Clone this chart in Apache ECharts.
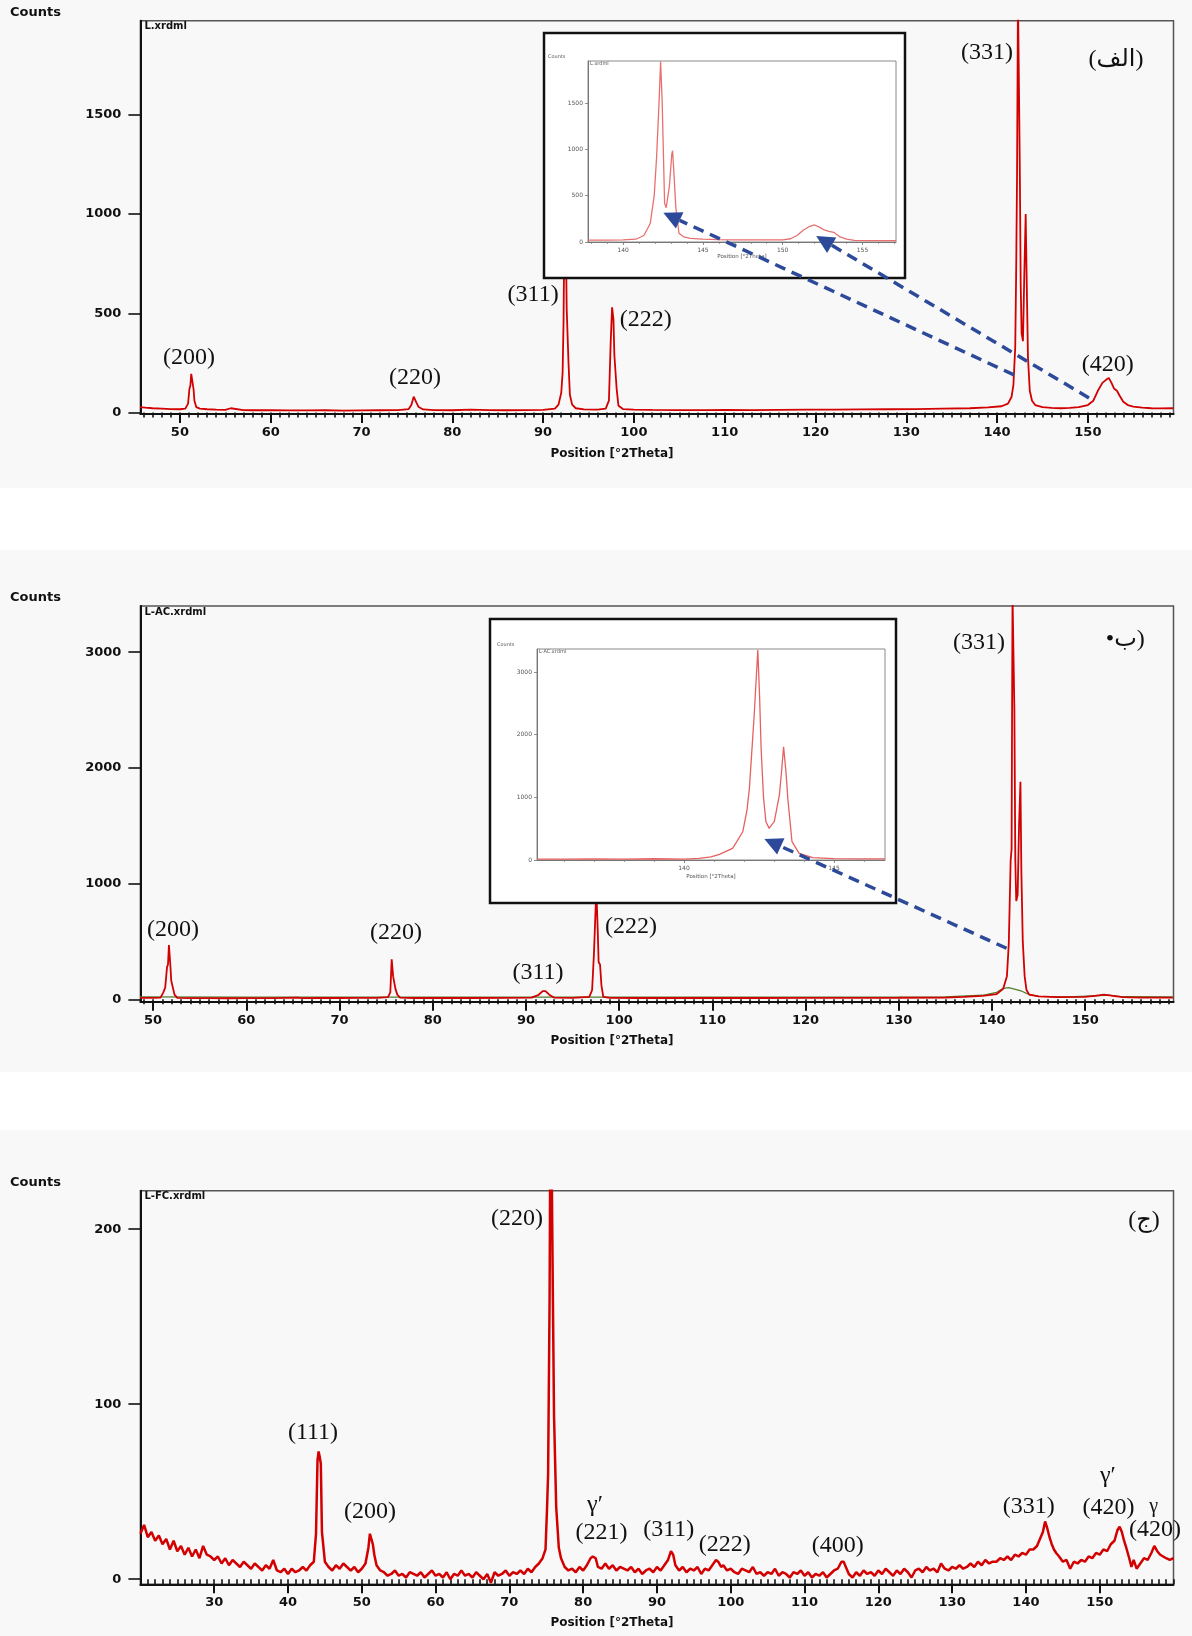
<!DOCTYPE html>
<html><head><meta charset="utf-8">
<script src="https://cdn.jsdelivr.net/npm/echarts@6/dist/echarts.min.js"></script>
<style>html,body{margin:0;padding:0;background:#fff}#c{width:1192px;height:1636px}</style>
</head><body><div id="c"></div>
<script>
// ---------------- DATA ----------------
// Panel (الف): L.xrdml  [2Theta, counts]
const p1Data = [[45.6,28],[46.2,25],[47,22],[48,20],[49,18],[50,17],[50.6,20],[50.9,45],[51.05,120],[51.15,135],[51.25,195],[51.4,190],[51.5,120],[51.6,60],[51.8,28],[52.2,20],[53,17],[54,15],[55,14],[55.6,22],[55.8,14],[57,13],[58,12],[60,12],[62,11],[64,11],[66,12],[68,10],[70,11],[72,12],[74,13],[75.2,18],[75.5,40],[75.75,80],[75.9,75],[76.05,50],[76.3,28],[76.8,16],[78,13],[80,12],[82,15],[84,13],[86,12],[88,13],[90,14],[91.3,20],[91.7,40],[92.0,100],[92.15,200],[92.25,450],[92.35,950],[92.5,900],[92.6,520],[92.7,515],[92.8,250],[92.95,90],[93.2,40],[93.6,22],[94.5,16],[96,15],[96.9,20],[97.25,60],[97.45,360],[97.6,530],[97.75,470],[97.85,290],[97.95,280],[98.1,120],[98.3,35],[98.8,18],[100,15],[102,14],[105,13],[108,13],[110,14],[113,13],[116,14],[119,15],[122,15],[125,16],[128,17],[131,18],[134,20],[137,22],[139,26],[140.5,32],[141.2,45],[141.6,80],[141.8,140],[142.0,330],[142.1,700],[142.2,1200],[142.3,2100],[142.4,2100],[142.5,1250],[142.6,650],[142.7,400],[142.85,360],[143.0,700],[143.15,1000],[143.25,700],[143.4,280],[143.6,110],[143.85,60],[144.2,38],[145,28],[146,24],[147,22],[148,24],[149,28],[150,38],[150.6,60],[151.1,110],[151.6,150],[152.0,165],[152.3,175],[152.6,150],[152.9,120],[153.2,110],[153.5,85],[153.9,55],[154.4,38],[155,30],[156,25],[157,22],[158,21],[159.4,22]];
// Inset of panel (الف)
const in1Data = [[137.8,20],[139,20],[140,22],[140.8,30],[141.3,70],[141.7,200],[141.95,500],[142.1,921],[142.25,1500],[142.35,1950],[142.45,1500],[142.5,1137],[142.6,418],[142.7,370],[142.8,381],[142.9,600],[143.05,950],[143.1,986],[143.2,700],[143.3,381],[143.5,94],[143.8,55],[144.2,40],[145,30],[146,25],[147,22],[148,22],[149,22],[150,24],[150.5,35],[150.9,70],[151.3,130],[151.7,170],[152.0,184],[152.3,160],[152.6,130],[152.9,115],[153.2,105],[153.6,55],[154.0,30],[154.5,18],[155.5,15],[157.1,15]];
// Panel (ب): L-AC.xrdml
const p2Data = [[48.6,12],[50,12],[50.8,14],[51.1,60],[51.3,100],[51.5,280],[51.6,300],[51.7,469],[51.85,300],[51.95,160],[52.1,150],[52.3,40],[52.6,12],[54,10],[56,10],[58,9],[60,10],[63,10],[65.5,14],[66,10],[68,12],[70,11],[72,12],[74,12],[75.2,18],[75.45,60],[75.6,345],[75.75,200],[75.85,190],[76.0,90],[76.2,40],[76.5,15],[78,11],[80,11],[84,11],[88,12],[90.6,15],[91.3,35],[91.8,70],[92.1,70],[92.5,40],[93,15],[95,12],[96.8,20],[97.1,80],[97.3,400],[97.4,410],[97.55,950],[97.7,600],[97.8,320],[97.95,300],[98.1,120],[98.3,20],[99,12],[102,11],[106,11],[110,12],[115,11],[120,12],[125,12],[130,13],[135,15],[137,20],[139,30],[140.5,45],[141.2,90],[141.6,200],[141.8,480],[142.0,1200],[142.1,1300],[142.2,3500],[142.3,3500],[142.4,2500],[142.5,1200],[142.6,850],[142.75,900],[142.9,1500],[143.05,1880],[143.15,1100],[143.3,500],[143.5,200],[143.7,80],[144,40],[145,25],[147,18],[150,20],[151,30],[152,40],[153,30],[154,18],[156,15],[159.4,15]];
const p2Green = [[48.6,20],[60,18],[80,18],[100,18],[120,18],[135,20],[139,35],[140.5,60],[141.2,95],[141.8,100],[142.5,85],[143.2,70],[144,40],[145,25],[148,20],[151,30],[152.5,35],[154,22],[159.4,20]];
// Inset of panel (ب)
const in2Data = [[135.1,15],[136,15],[137,18],[138,15],[139,20],[140,15],[140.5,25],[140.9,50],[141.18,91],[141.62,186],[141.96,451],[142.1,800],[142.18,1143],[142.34,2313],[142.46,3350],[142.52,2600],[142.57,1786],[142.65,1000],[142.73,611],[142.84,505],[142.92,560],[143.01,611],[143.18,1037],[143.25,1400],[143.32,1807],[143.4,1400],[143.46,984],[143.6,292],[143.84,107],[144.29,37],[145,22],[146,18],[146.7,18]];
// Panel (ج): L-FC.xrdml
const p3Data = [[20,26],[20.5,31],[21,24],[21.5,27],[22,22],[22.5,25],[23,20],[23.5,23],[24,17],[24.5,22],[25,16],[25.5,19],[26,14],[26.5,18],[27,13],[27.5,17],[28,12],[28.5,19],[29,14],[29.5,13],[30,11],[30.5,13],[31,9],[31.5,12],[32,8],[32.5,11],[33,9],[33.5,7],[34,10],[34.5,8],[35,6],[35.5,9],[36,7],[36.5,5],[37,8],[37.5,6],[38,11],[38.5,5],[39,4],[39.5,6],[40,3],[40.5,6],[41,4],[41.5,5],[42,7],[42.5,5],[43,8],[43.5,10],[43.8,26],[44.0,68],[44.15,73],[44.3,70],[44.45,66],[44.6,27],[44.8,28],[45.0,10],[45.5,7],[46,5],[46.5,8],[47,6],[47.5,9],[48,7],[48.5,5],[49,7],[49.5,4],[50,6],[50.5,9],[50.9,18],[51.1,26],[51.3,27],[51.5,20],[51.7,14],[52,8],[52.5,5],[53,4],[53.5,2],[54,3],[54.5,5],[55,2],[55.5,3],[56,1],[56.5,4],[57,3],[57.5,2],[58,4],[58.5,1],[59,3],[59.5,5],[60,2],[60.5,3],[61,1],[61.5,4],[62,0],[62.5,3],[63,2],[63.5,5],[64,2],[64.5,3],[65,1],[65.5,4],[66,2],[66.5,0],[67,3],[67.5,-2],[68,4],[68.5,2],[69,3],[69.5,5],[70,2],[70.5,4],[71,3],[71.5,5],[72,3],[72.5,6],[73,4],[73.5,7],[74,9],[74.5,12],[74.9,17],[75.1,40],[75.25,60],[75.45,160],[75.6,300],[75.75,300],[75.9,160],[76.05,94],[76.2,94],[76.35,41],[76.5,40],[76.7,18],[77,12],[77.5,7],[78,5],[78.5,6],[79,4],[79.5,7],[80,5],[80.5,8],[81,12],[81.3,13],[81.7,12],[82,7],[82.5,6],[83,9],[83.5,6],[84,8],[84.5,5],[85,7],[85.5,6],[86,5],[86.5,7],[87,4],[87.5,6],[88,3],[88.5,5],[89,6],[89.5,4],[90,7],[90.5,5],[91,8],[91.5,11],[91.9,16],[92.2,14],[92.5,8],[93,5],[93.5,7],[94,4],[94.5,6],[95,5],[95.5,7],[96,3],[96.5,6],[97,5],[97.5,8],[98,11],[98.3,10],[98.7,7],[99,8],[99.5,5],[100,6],[100.5,4],[101,3],[101.5,6],[102,5],[102.5,4],[103,7],[103.5,3],[104,4],[104.5,2],[105,4],[105.5,3],[106,6],[106.5,2],[107,4],[107.5,3],[108,1],[108.5,4],[109,3],[109.5,5],[110,2],[110.5,4],[111,1],[111.5,3],[112,2],[112.5,4],[113,1],[113.5,3],[114,5],[114.5,6],[115,10],[115.3,10],[115.7,6],[116,3],[116.5,1],[117,4],[117.5,2],[118,5],[118.5,3],[119,4],[119.5,2],[120,5],[120.5,3],[121,6],[121.5,4],[122,2],[122.5,5],[123,3],[123.5,6],[124,4],[124.5,1],[125,5],[125.5,6],[126,4],[126.5,7],[127,5],[127.5,6],[128,4],[128.5,9],[129,6],[129.5,5],[130,7],[130.5,6],[131,8],[131.5,6],[132,7],[132.5,9],[133,7],[133.5,10],[134,8],[134.5,11],[135,9],[135.5,10],[136,10],[136.5,12],[137,11],[137.5,13],[138,11],[138.5,14],[139,13],[139.5,15],[140,14],[140.5,17],[141,17],[141.5,19],[142,24],[142.3,27],[142.6,33],[142.9,29],[143.2,24],[143.5,20],[143.8,17],[144.1,15],[144.5,13],[145,10],[145.5,11],[146,6],[146.5,10],[147,9],[147.5,11],[148,10],[148.5,13],[149,12],[149.5,15],[150,14],[150.5,17],[151,16],[151.5,20],[152,22],[152.4,28],[152.7,30],[153,27],[153.3,22],[153.6,18],[154,12],[154.3,7],[154.6,11],[155,6],[155.5,9],[156,12],[156.5,11],[157,15],[157.4,19],[157.8,16],[158.2,14],[158.6,13],[159,12],[159.5,11],[160,12]];

// tick labels
const p1XTicks = [50,60,70,80,90,100,110,120,130,140,150];
const p1YTicks = [0,500,1000,1500];
const in1XTicks = [140,145,150,155];
const in1YTicks = [0,500,1000,1500];
const p2XTicks = [50,60,70,80,90,100,110,120,130,140,150];
const p2YTicks = [0,1000,2000,3000];
const in2XTicks = [140,145];
const in2YTicks = [0,1000,2000,3000];
const p3XTicks = [30,40,50,60,70,80,90,100,110,120,130,140,150];
const p3YTicks = [0,100,200];

// peak labels [text, 2Theta, counts]
const p1Notes = [['(200)',51.0,275],['(220)',75.9,175],['(311)',88.9,592],['(222)',101.3,466],['(331)',138.9,1811],['(420)',152.2,240],['(الف)',153.1,1776]];
const p2Notes = [['(200)',52.14,599],['(220)',76.06,574],['(311)',91.29,227],['(222)',101.27,626],['(331)',138.6,3079],['•ب)',154.3,3105]];
const p3Notes = [['(111)',43.39,83.6],['(200)',51.11,38.5],['(220)',71.03,206],['γ′',81.6,42.5],['(221)',82.5,26.5],['(311)',91.6,28.2],['(222)',99.2,19.6],['(400)',114.5,19.0],['(331)',140.4,41.5],['γ′',151.1,59],['(420)',151.2,40.8],['γ',157.3,41.5],['(420)',157.5,28.2],['(ج)',156.0,205]];
// zoom arrows: from main-panel point to inset point
const arrows = [
  {from:[0,141.86,190], to:[1,142.52,316]},
  {from:[0,150.12,74], to:[1,152.1,65]},
  {from:[2,141.56,441], to:[3,142.68,335]}
];

// ---------------- LAYOUT ----------------
const G = [
  {left:140.4, top:20.7, width:1033.1, height:393.3},
  {left:588, top:61, width:308, height:181},
  {left:140.4, top:606, width:1033.1, height:395.7},
  {left:537, top:649, width:348, height:211},
  {left:140.4, top:1190.7, width:1033.1, height:393.6}
];
const R = [
  {xmin:45.65, xmax:159.43, ymin:-7, ymax:1974},
  {xmin:137.8, xmax:157.1, ymin:0, ymax:1955},
  {xmin:48.64, xmax:159.47, ymin:-21, ymax:3399},
  {xmin:135.1, xmax:146.7, ymin:0, ymax:3366},
  {xmin:20, xmax:160, ymin:-2.9, ymax:222}
];
const XT = [p1XTicks, in1XTicks, p2XTicks, in2XTicks, p3XTicks];
const YT = [p1YTicks, in1YTicks, p2YTicks, in2YTicks, p3YTicks];
const isInset = [false,true,false,true,false];
const nameGap = [34, 12, 33, 14, 33];
const plain = v => String(v);

const boldSans = 'DejaVu Sans';
const grids = [], xAxes = [], yAxes = [];
G.forEach((g,i)=>{
  const ins = isInset[i];
  const zz = ins ? 20 : 0;
  grids.push({left:g.left, top:g.top, width:g.width, height:g.height, show:true,
    borderColor: ins ? '#8a8a8a' : '#555', borderWidth: ins ? 1 : 1.5, backgroundColor:'transparent', z:zz});
  const minor = [];
  for (let v=Math.ceil(R[i].xmin); v<=Math.floor(R[i].xmax); v++) minor.push(v);
  const axCol = ins ? '#777' : '#111';
  xAxes.push({type:'value', gridIndex:i, min:R[i].xmin, max:R[i].xmax, position:'bottom', z:zz,
    axisLine:{show:true, onZero:false, lineStyle:{color:axCol, width: ins?1:2}},
    axisTick:{show:true, length: ins?3:9, customValues:XT[i], lineStyle:{color:axCol, width: ins?0.8:2}},
    axisLabel:{show:true, customValues:XT[i], formatter:plain, margin: ins?5:12, fontFamily:boldSans, fontWeight: ins?'normal':'bold', fontSize: ins?6:13, color: ins?'#555':'#111'},
    splitLine:{show:false},
    name:'Position [°2Theta]', nameLocation:'middle', nameGap:nameGap[i],
    nameTextStyle:{fontFamily:boldSans, fontWeight: ins?'normal':'bold', fontSize: ins?5.5:12, color: ins?'#555':'#111', padding: ins?[0,0,0,0]:[0,90,0,0]}
  });
  xAxes.push({type:'value', gridIndex:i, min:R[i].xmin, max:R[i].xmax, position:'bottom', z:zz,
    axisLine:{show:false}, axisLabel:{show:false}, splitLine:{show:false},
    axisTick:{show:true, length: ins?2:5, customValues:minor, lineStyle:{color:axCol, width: ins?0.7:1.6}}
  });
  yAxes.push({type:'value', gridIndex:i, min:R[i].ymin, max:R[i].ymax, z:zz,
    axisLine:{show:true, onZero:false, lineStyle:{color:axCol, width: ins?1:2}},
    axisTick:{show:true, length: ins?3:12, customValues:YT[i], lineStyle:{color:axCol, width: ins?0.8:1.6}},
    axisLabel:{show:true, customValues:YT[i], formatter:plain, margin: ins?5:19, fontFamily:boldSans, fontWeight: ins?'normal':'bold', fontSize: ins?6:13, color: ins?'#555':'#111'},
    splitLine:{show:false}
  });
});

const lineS = (xi, yi, data, color, w, z) => ({type:'line', xAxisIndex:xi, yAxisIndex:yi, data, showSymbol:false, symbol:'none',
  lineStyle:{color, width:w}, z, clip:true, animation:false, silent:true});

const option = {
  animation:false,
  backgroundColor:'#ffffff',
  grid: grids, xAxis: xAxes, yAxis: yAxes,
  series: [
    lineS(0,0,p1Data,'#d20000',1.8,2),
    lineS(2,1,in1Data,'#e87070',1.3,21),
    lineS(4,2,p2Green,'#4f7f2f',1.2,2),
    lineS(4,2,p2Data,'#d20000',1.8,3),
    lineS(6,3,in2Data,'#e66060',1.3,21),
    lineS(8,4,p3Data,'#d20000',2.5,2)
  ]
};

const chart = echarts.init(document.getElementById('c'), null, {renderer:'canvas', width:1192, height:1636});
chart.setOption(option);

// -------------- annotations (positioned via axis scales) --------------
const xIdx = [0,2,4,6,8];
function px(gi, x, y){ return chart.convertToPixel({xAxisIndex:xIdx[gi], yAxisIndex:gi}, [x,y]); }
const els = [];
// panel backgrounds
[[0,488],[550,1072],[1130,1636]].forEach(b=>{
  els.push({type:'rect', z:-10, silent:true, shape:{x:0,y:b[0],width:1192,height:b[1]-b[0]}, style:{fill:'#f8f8f8'}});
});
// inset boxes
[[544,33,361,245],[490,619,406,284]].forEach(b=>{
  els.push({type:'rect', z:10, silent:true, shape:{x:b[0],y:b[1],width:b[2],height:b[3]}, style:{fill:'#ffffff', stroke:'#111', lineWidth:2.5}});
});
const txt = (x,y,text,font,align,z,fill) => ({type:'text', z:z||30, silent:true, x, y,
  style:{text, font, fill: fill||'#111', align: align||'center', verticalAlign:'middle', textAlign: align||'center', textVerticalAlign:'middle'}});
const smallBold = 'bold 13px "DejaVu Sans", sans-serif';
// Counts labels and file names for main panels
[0,2,4].forEach((gi,k)=>{
  const g = G[gi];
  els.push(txt(10, g.top-8, 'Counts', smallBold, 'left'));
  els.push(txt(g.left+4, g.top+6, ['L.xrdml','L-AC.xrdml','L-FC.xrdml'][k], 'bold 10px "DejaVu Sans", sans-serif', 'left'));
});
// insets small texts
[[1,'L.xrdml'],[3,'L-AC.xrdml']].forEach(([gi,name])=>{
  const g = G[gi];
  els.push(txt(g.left-40, g.top-4, 'Counts', '5px "DejaVu Sans", sans-serif', 'left', 25, '#555'));
  els.push(txt(g.left+2, g.top+3, name, '5px "DejaVu Sans", sans-serif', 'left', 25, '#555'));
});
// peak labels
const serif = '"Liberation Serif", "DejaVu Serif", "DejaVu Sans", serif';
[[0,p1Notes],[2,p2Notes],[4,p3Notes]].forEach(([gi,notes])=>{
  notes.forEach(n=>{
    const p = px(gi, n[1], n[2]);
    const size = n[0]==='γ' ? 20 : 24;
    els.push(txt(p[0], p[1], n[0], size+'px '+serif, 'center'));
  });
});
// dashed zoom arrows
arrows.forEach(a=>{
  const s = px(a.from[0], a.from[1], a.from[2]);
  const t = px(a.to[0], a.to[1], a.to[2]);
  const dx = t[0]-s[0], dy = t[1]-s[1], len = Math.hypot(dx,dy);
  const ux = dx/len, uy = dy/len, L = 18, W = 9;
  const bx = t[0]-ux*L, by = t[1]-uy*L;
  els.push({type:'line', z:30, silent:true, shape:{x1:s[0],y1:s[1],x2:bx,y2:by}, style:{stroke:'#2d4a9a', lineWidth:3.5, lineDash:[11,7]}});
  els.push({type:'polygon', z:31, silent:true, shape:{points:[[t[0],t[1]],[bx-uy*W,by+ux*W],[bx+uy*W,by-ux*W]]}, style:{fill:'#2d4a9a'}});
});
chart.setOption({graphic:{elements:els}});
</script>
</body></html>
